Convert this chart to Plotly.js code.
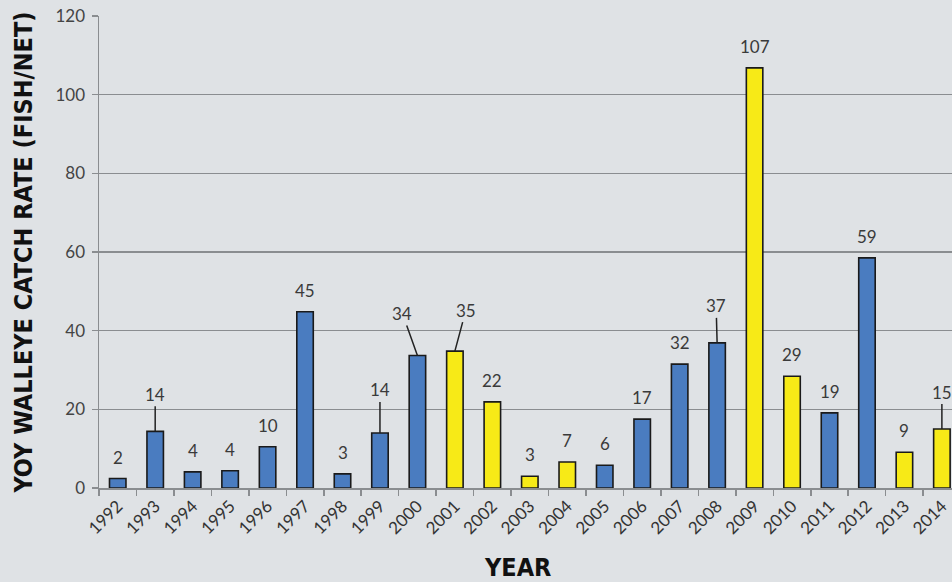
<!DOCTYPE html>
<html>
<head>
<meta charset="utf-8">
<script src="https://cdn.plot.ly/plotly-3.0.1.min.js"></script>
<style>
  html, body { margin: 0; padding: 0; background: #dfe2e5; }
  #chart { width: 952px; height: 582px; }
</style>
</head>
<body>
<div id="chart"></div>
<script>
// ---- data ----
const years = ['1992','1993','1994','1995','1996','1997','1998','1999','2000','2001','2002',
               '2003','2004','2005','2006','2007','2008','2009','2010','2011','2012','2013','2014'];
const catchRate = [2.4, 14.4, 4.1, 4.4, 10.5, 44.8, 3.6, 14.0, 33.7, 34.8, 21.9,
                   3.0, 6.6, 5.8, 17.5, 31.5, 36.9, 106.8, 28.4, 19.1, 58.5, 9.1, 15.0];
const valueLabels = ['2','14','4','4','10','45','3','14','34','35','22',
                     '3','7','6','17','32','37','107','29','19','59','9','15'];
const yellowYears = ['2001','2002','2003','2004','2009','2010','2013','2014'];
const yTicks = [0, 20, 40, 60, 80, 100, 120];

// ---- styling ----
const BLUE = '#4a7cc0';
const YELLOW = '#f7ea17';
const colors = years.map(y => yellowYears.includes(y) ? YELLOW : BLUE);

// labels that sit on a leader line: pixel offsets [ax, ay]
const leaders = {
  '1993': [0, -37], '1999': [0, -43], '2000': [-15, -42],
  '2001': [11, -41], '2008': [-1, -37], '2014': [0, -37]
};

const labelFont = { family: 'Lato, "Open Sans", sans-serif', size: 17, color: '#3a3a3a' };
const titleFamily = '"DejaVu Sans Condensed", "Liberation Sans Narrow", sans-serif';

// category axis: annotation x given as category index (years look numeric)
const annotations = years.map((yr, i) => {
  const base = { x: i, y: catchRate[i], xref: 'x', yref: 'y', text: valueLabels[i],
                 font: Object.assign({}, labelFont) };
  if (leaders[yr]) {
    return Object.assign(base, {
      showarrow: true, arrowhead: 0, arrowwidth: 1.5, arrowcolor: '#222',
      ax: leaders[yr][0], ay: leaders[yr][1], standoff: 0
    });
  }
  return Object.assign(base, { showarrow: false, yanchor: 'bottom', yshift: 9 });
});

annotations.push({
  xref: 'paper', yref: 'paper', x: (517 - 99) / (952 - 99), y: -79 / 472,
  text: '<b>YEAR</b>', showarrow: false, xanchor: 'center', yanchor: 'middle',
  font: { family: titleFamily, size: 25, color: '#111' }
});

const trace = {
  type: 'bar',
  x: years,
  y: catchRate,
  width: 0.44,
  marker: { color: colors, line: { color: '#1a1a1a', width: 1.6 } },
  cliponaxis: false,
  hoverinfo: 'x+y'
};

const layout = {
  width: 952, height: 582,
  margin: { l: 99, r: 0, t: 16, b: 94 },
  paper_bgcolor: '#dfe2e5',
  plot_bgcolor: 'rgba(0,0,0,0)',
  showlegend: false,
  xaxis: {
    type: 'category',
    range: [-0.5, 22.27],
    tickson: 'boundaries',
    ticks: 'outside', ticklen: 6, tickwidth: 1.5, tickcolor: '#8a8d90',
    showline: true, linecolor: '#8a8d90', linewidth: 1.5,
    showgrid: false,
    tickangle: -45,
    tickfont: { family: 'Lato, "Open Sans", sans-serif', size: 17, color: '#333' },
    fixedrange: true
  },
  yaxis: {
    range: [0, 120],
    tickvals: yTicks,
    ticks: 'outside', ticklen: 6, tickwidth: 1.5, tickcolor: '#8a8d90',
    showline: true, linecolor: '#8a8d90', linewidth: 1.5,
    showgrid: true, gridcolor: '#8a8d90', gridwidth: 1.5,
    zeroline: false,
    tickfont: { family: 'Lato, "Open Sans", sans-serif', size: 17, color: '#444' },
    ticklabelstandoff: 3,
    title: {
      text: '<b>YOY WALLEYE CATCH RATE (FISH/NET)</b>',
      font: { family: titleFamily, size: 25, color: '#111' },
      standoff: 16
    },
    fixedrange: true
  },
  annotations: annotations
};

Plotly.newPlot('chart', [trace], layout, { displayModeBar: false, staticPlot: true });
</script>
</body>
</html>
